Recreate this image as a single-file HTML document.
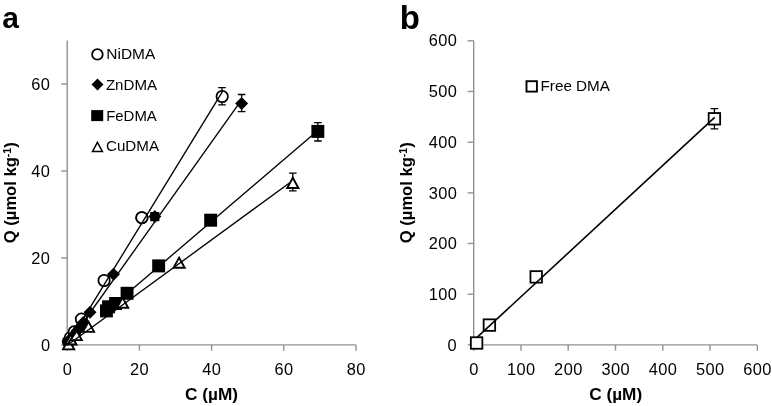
<!DOCTYPE html>
<html lang="en"><head><meta charset="utf-8"><title>Figure</title>
<style>html,body{margin:0;padding:0;background:#fff}body{width:772px;height:406px;overflow:hidden}</style>
</head><body>
<svg width="772" height="406" viewBox="0 0 772 406" style="display:block;will-change:transform;opacity:0.9999">
<rect width="772" height="406" fill="#fff"/>
<g stroke="#929292" stroke-width="1.4" fill="none">
<path d="M67.2 40.5 V344.9 H356.0"/>
<line x1="67.2" y1="344.9" x2="67.2" y2="350.7"/>
<line x1="139.4" y1="344.9" x2="139.4" y2="350.7"/>
<line x1="211.6" y1="344.9" x2="211.6" y2="350.7"/>
<line x1="283.8" y1="344.9" x2="283.8" y2="350.7"/>
<line x1="356.0" y1="344.9" x2="356.0" y2="350.7"/>
<line x1="61.2" y1="344.9" x2="67.2" y2="344.9"/>
<line x1="61.2" y1="257.9" x2="67.2" y2="257.9"/>
<line x1="61.2" y1="171.0" x2="67.2" y2="171.0"/>
<line x1="61.2" y1="84.0" x2="67.2" y2="84.0"/>
</g>
<g font-family="Liberation Sans, DejaVu Sans, sans-serif" font-size="16.4" fill="#000">
<text x="67.2" y="374.7" text-anchor="middle">0</text>
<text x="139.6" y="374.7" text-anchor="middle" letter-spacing="0.4">20</text>
<text x="211.8" y="374.7" text-anchor="middle" letter-spacing="0.4">40</text>
<text x="284.0" y="374.7" text-anchor="middle" letter-spacing="0.4">60</text>
<text x="356.2" y="374.7" text-anchor="middle" letter-spacing="0.4">80</text>
<text x="50.0" y="350.5" text-anchor="end">0</text>
<text x="50.2" y="263.5" text-anchor="end" letter-spacing="0.4">20</text>
<text x="50.2" y="176.6" text-anchor="end" letter-spacing="0.4">40</text>
<text x="50.2" y="89.6" text-anchor="end" letter-spacing="0.4">60</text>
</g>
<text x="211.5" y="400" text-anchor="middle" textLength="53" lengthAdjust="spacingAndGlyphs" font-family="Liberation Sans, DejaVu Sans, sans-serif" font-size="15.6" font-weight="bold" fill="#000">C (µM)</text>
<text transform="translate(16.0,192.7) rotate(-90)" text-anchor="middle" textLength="101" lengthAdjust="spacingAndGlyphs" font-family="Liberation Sans, DejaVu Sans, sans-serif" font-size="15.6" font-weight="bold" fill="#000">Q (µmol kg<tspan font-size="10" dy="-5.2">-1</tspan><tspan dy="5.2">)</tspan></text>
<g stroke="#929292" stroke-width="1.4" fill="none">
<path d="M473.7 40.8 V344.9 H757.3"/>
<line x1="473.7" y1="344.9" x2="473.7" y2="350.7"/>
<line x1="521.0" y1="344.9" x2="521.0" y2="350.7"/>
<line x1="568.2" y1="344.9" x2="568.2" y2="350.7"/>
<line x1="615.5" y1="344.9" x2="615.5" y2="350.7"/>
<line x1="662.8" y1="344.9" x2="662.8" y2="350.7"/>
<line x1="710.0" y1="344.9" x2="710.0" y2="350.7"/>
<line x1="757.3" y1="344.9" x2="757.3" y2="350.7"/>
<line x1="467.7" y1="344.9" x2="473.7" y2="344.9"/>
<line x1="467.7" y1="294.2" x2="473.7" y2="294.2"/>
<line x1="467.7" y1="243.5" x2="473.7" y2="243.5"/>
<line x1="467.7" y1="192.9" x2="473.7" y2="192.9"/>
<line x1="467.7" y1="142.2" x2="473.7" y2="142.2"/>
<line x1="467.7" y1="91.5" x2="473.7" y2="91.5"/>
<line x1="467.7" y1="40.8" x2="473.7" y2="40.8"/>
</g>
<g font-family="Liberation Sans, DejaVu Sans, sans-serif" font-size="16.4" fill="#000">
<text x="473.7" y="374.7" text-anchor="middle">0</text>
<text x="521.2" y="374.7" text-anchor="middle" letter-spacing="0.4">100</text>
<text x="568.4" y="374.7" text-anchor="middle" letter-spacing="0.4">200</text>
<text x="615.7" y="374.7" text-anchor="middle" letter-spacing="0.4">300</text>
<text x="663.0" y="374.7" text-anchor="middle" letter-spacing="0.4">400</text>
<text x="710.2" y="374.7" text-anchor="middle" letter-spacing="0.4">500</text>
<text x="757.5" y="374.7" text-anchor="middle" letter-spacing="0.4">600</text>
<text x="456.5" y="350.5" text-anchor="end">0</text>
<text x="457.2" y="299.8" text-anchor="end" letter-spacing="0.4">100</text>
<text x="457.2" y="249.1" text-anchor="end" letter-spacing="0.4">200</text>
<text x="457.2" y="198.5" text-anchor="end" letter-spacing="0.4">300</text>
<text x="457.2" y="147.8" text-anchor="end" letter-spacing="0.4">400</text>
<text x="457.2" y="97.1" text-anchor="end" letter-spacing="0.4">500</text>
<text x="457.2" y="46.4" text-anchor="end" letter-spacing="0.4">600</text>
</g>
<text x="615.7" y="400" text-anchor="middle" textLength="53" lengthAdjust="spacingAndGlyphs" font-family="Liberation Sans, DejaVu Sans, sans-serif" font-size="15.6" font-weight="bold" fill="#000">C (µM)</text>
<text transform="translate(411.8,192.7) rotate(-90)" text-anchor="middle" textLength="101" lengthAdjust="spacingAndGlyphs" font-family="Liberation Sans, DejaVu Sans, sans-serif" font-size="15.6" font-weight="bold" fill="#000">Q (µmol kg<tspan font-size="10" dy="-5.2">-1</tspan><tspan dy="5.2">)</tspan></text>
<text x="2.2" y="28" font-family="Liberation Sans, DejaVu Sans, sans-serif" font-size="30" font-weight="bold" fill="#000">a</text>
<text x="399.8" y="28.6" font-family="Liberation Sans, DejaVu Sans, sans-serif" font-size="33" font-weight="bold" fill="#000">b</text>
<path d="M222.0 87.7 V104.9 M218.2 87.7 H225.8 M218.2 104.9 H225.8" stroke="#000" stroke-width="1.3" fill="none"/>
<path d="M241.6 94.5 V111.7 M237.8 94.5 H245.4 M237.8 111.7 H245.4" stroke="#000" stroke-width="1.3" fill="none"/>
<path d="M317.9 122.6 V141.0 M314.1 122.6 H321.7 M314.1 141.0 H321.7" stroke="#000" stroke-width="1.3" fill="none"/>
<path d="M292.8 173.1 V190.9 M289.0 173.1 H296.6 M289.0 190.9 H296.6" stroke="#000" stroke-width="1.3" fill="none"/>
<circle cx="68.4" cy="341.6" r="5.7" fill="#fff" stroke="#000" stroke-width="1.75"/>
<circle cx="70.4" cy="337.6" r="5.7" fill="#fff" stroke="#000" stroke-width="1.75"/>
<circle cx="74.2" cy="331.9" r="5.7" fill="#fff" stroke="#000" stroke-width="1.75"/>
<circle cx="81.4" cy="319.1" r="5.7" fill="#fff" stroke="#000" stroke-width="1.75"/>
<circle cx="104.1" cy="280.5" r="5.7" fill="#fff" stroke="#000" stroke-width="1.75"/>
<circle cx="141.9" cy="217.7" r="5.7" fill="#fff" stroke="#000" stroke-width="1.75"/>
<circle cx="222.2" cy="96.5" r="5.7" fill="#fff" stroke="#000" stroke-width="1.75"/>
<path d="M68.5 335.0 L75.0 341.5 L68.5 348.0 L62.0 341.5 Z" fill="#000"/>
<path d="M70.3 332.9 L76.8 339.4 L70.3 345.9 L63.8 339.4 Z" fill="#000"/>
<path d="M72.1 330.7 L78.6 337.2 L72.1 343.7 L65.6 337.2 Z" fill="#000"/>
<path d="M74.7 327.5 L81.2 334.0 L74.7 340.5 L68.2 334.0 Z" fill="#000"/>
<path d="M77.2 324.3 L83.7 330.8 L77.2 337.3 L70.7 330.8 Z" fill="#000"/>
<path d="M79.8 321.1 L86.3 327.6 L79.8 334.1 L73.3 327.6 Z" fill="#000"/>
<path d="M82.4 317.9 L88.9 324.4 L82.4 330.9 L75.9 324.4 Z" fill="#000"/>
<path d="M83.4 316.1 L89.9 322.6 L83.4 329.1 L76.9 322.6 Z" fill="#000"/>
<path d="M90.0 305.7 L96.5 312.2 L90.0 318.7 L83.5 312.2 Z" fill="#000"/>
<path d="M113.5 267.7 L120.0 274.2 L113.5 280.7 L107.0 274.2 Z" fill="#000"/>
<path d="M154.8 210.1 L161.3 216.6 L154.8 223.1 L148.3 216.6 Z" fill="#000"/>
<path d="M241.6 96.9 L248.1 103.4 L241.6 109.9 L235.1 103.4 Z" fill="#000"/>
<rect x="150.2" y="212" width="9.2" height="9.2" fill="#000"/>
<circle cx="141.9" cy="217.7" r="5.7" fill="#fff" stroke="#000" stroke-width="1.75"/>
<rect x="100.0" y="304.4" width="12.9" height="13.0" fill="#000"/>
<rect x="102.1" y="300.3" width="12.9" height="13.0" fill="#000"/>
<rect x="109.1" y="297.0" width="12.9" height="13.0" fill="#000"/>
<rect x="120.6" y="286.8" width="12.9" height="13.0" fill="#000"/>
<rect x="152.2" y="259.4" width="12.9" height="13.0" fill="#000"/>
<rect x="204.2" y="213.7" width="12.9" height="13.0" fill="#000"/>
<rect x="311.4" y="124.9" width="12.9" height="13.0" fill="#000"/>
<path d="M68.6 339.2 L74.2 349.4 L63.0 349.4 Z" fill="#fff" stroke="#000" stroke-width="1.9" stroke-linejoin="miter"/>
<path d="M70.8 334.3 L76.4 344.5 L65.2 344.5 Z" fill="#fff" stroke="#000" stroke-width="1.9" stroke-linejoin="miter"/>
<path d="M76.2 329.9 L81.8 340.1 L70.6 340.1 Z" fill="#fff" stroke="#000" stroke-width="1.9" stroke-linejoin="miter"/>
<path d="M88.5 321.7 L94.1 331.9 L82.9 331.9 Z" fill="#fff" stroke="#000" stroke-width="1.9" stroke-linejoin="miter"/>
<path d="M122.6 297.6 L128.2 307.8 L117.0 307.8 Z" fill="#fff" stroke="#000" stroke-width="1.9" stroke-linejoin="miter"/>
<path d="M179.1 257.6 L184.7 267.8 L173.5 267.8 Z" fill="#fff" stroke="#000" stroke-width="1.9" stroke-linejoin="miter"/>
<path d="M292.8 177.8 L298.4 188.0 L287.2 188.0 Z" fill="#fff" stroke="#000" stroke-width="1.9" stroke-linejoin="miter"/>
<line x1="67.2" y1="344.9" x2="222.6" y2="91.4" stroke="#000" stroke-width="1.35" stroke-linecap="butt"/>
<line x1="67.8" y1="344.0" x2="241.6" y2="99.9" stroke="#000" stroke-width="1.35" stroke-linecap="butt"/>
<line x1="107.0" y1="310.8" x2="317.9" y2="130.4" stroke="#000" stroke-width="1.35" stroke-linecap="butt"/>
<line x1="67.0" y1="345.5" x2="289.4" y2="183.0" stroke="#000" stroke-width="1.35" stroke-linecap="butt"/>
<circle cx="97.4" cy="54.4" r="5.3" fill="#fff" stroke="#000" stroke-width="1.8"/>
<path d="M97.5 78.6 L103.5 84.6 L97.5 90.6 L91.5 84.6 Z" fill="#000"/>
<rect x="91.2" y="110.1" width="12.0" height="11.0" fill="#000"/>
<path d="M97.4 142.3 L102.4 151.4 L92.5 151.4 Z" fill="#fff" stroke="#000" stroke-width="1.5" stroke-linejoin="miter"/>
<g font-family="Liberation Sans, DejaVu Sans, sans-serif" font-size="14.3" fill="#000">
<text x="106.3" y="59.2" textLength="49.0" lengthAdjust="spacingAndGlyphs">NiDMA</text>
<text x="105.9" y="89.8" textLength="51.2" lengthAdjust="spacingAndGlyphs">ZnDMA</text>
<text x="106.2" y="120.6" textLength="50.6" lengthAdjust="spacingAndGlyphs">FeDMA</text>
<text x="106.0" y="151.3" textLength="53.0" lengthAdjust="spacingAndGlyphs">CuDMA</text>
</g>
<path d="M714.4 108.7 V128.9 M710.6 108.7 H718.2 M710.6 128.9 H718.2" stroke="#000" stroke-width="1.3" fill="none"/>
<rect x="470.85" y="337.25" width="11.5" height="11.5" fill="#fff" stroke="#000" stroke-width="1.8"/>
<rect x="483.65" y="319.35" width="11.5" height="11.5" fill="#fff" stroke="#000" stroke-width="1.8"/>
<rect x="530.45" y="271.15" width="11.5" height="11.5" fill="#fff" stroke="#000" stroke-width="1.8"/>
<rect x="708.65" y="113.05" width="11.5" height="11.5" fill="#fff" stroke="#000" stroke-width="1.8"/>
<line x1="477.3" y1="337.2" x2="714.7" y2="117.3" stroke="#000" stroke-width="1.6" stroke-linecap="butt"/>
<rect x="526.50" y="81.20" width="10.4" height="10.4" fill="#fff" stroke="#000" stroke-width="1.9"/>
<text x="540.5" y="91.1" textLength="69.5" lengthAdjust="spacingAndGlyphs" font-family="Liberation Sans, DejaVu Sans, sans-serif" font-size="14.3" fill="#000">Free DMA</text>
</svg>
</body></html>
